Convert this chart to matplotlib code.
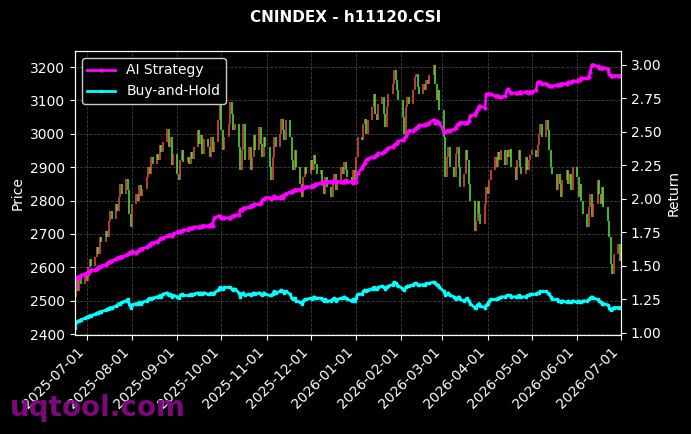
import numpy as np
import pandas as pd
import matplotlib
matplotlib.use("Agg")
import matplotlib.pyplot as plt
import matplotlib.dates as mdates

## data ****************************************************************************************************************

# trading days, 2025-06-23 .. 2026-07-01
dates = pd.bdate_range("2025-06-23", "2026-07-01")

first_open = 2560
# daily closes, one line per week
close = [2510, 2565, 2530, 2575, 2550,
         2585, 2560, 2600, 2625, 2605,
         2630, 2660, 2640, 2690, 2675,
         2710, 2690, 2740, 2770, 2745,
         2790, 2770, 2810, 2850, 2820,
         2865, 2830, 2760, 2720, 2790,
         2820, 2800, 2845, 2815, 2835,
         2870, 2900, 2880, 2930, 2910,
         2940, 2920, 2965, 2945, 2975,
         3015, 2960, 2990, 2905, 2940,
         2880, 2860, 2920, 2950, 2915,
         2930, 2910, 2945, 2925, 2960,
         3010, 2970, 2995, 2940, 2985,
         2960, 2930, 2990, 2945, 2975,
         3040, 3085, 3010, 2950, 2990,
         3030, 3095, 3060, 3010, 3030,
         2960, 2890, 2950, 3030, 2920,
         2960, 2890, 2930, 2995, 2950,
         3020, 2970, 2930, 2990, 2960,
         2900, 2860, 2930, 2990, 2960,
         3000, 3045, 3010, 2980, 3040,
         2990, 2920, 2890, 2950, 2900,
         2850, 2810, 2870, 2900, 2880,
         2920, 2890, 2935, 2910, 2880,
         2890, 2850, 2820, 2870, 2840,
         2810, 2860, 2880, 2830, 2860,
         2900, 2880, 2915, 2890, 2870,
         2850, 2890, 2860, 2930, 2990,
         2980, 3030, 3045, 3000, 3040,
         3080, 3120, 3060, 3040, 3090,
         3110, 3060, 3020, 3080, 3120,
         3150, 3190, 3160, 3130, 3100,
         3050, 3000, 3080, 3110, 3090,
         3130, 3170, 3180, 3140, 3120,
         3150, 3130, 3160, 3150, 3175,
         3205, 3150, 3100, 3130, 3070,
         2990, 2870, 2930, 2960, 2900,
         2870, 2940, 2960, 2900, 2840,
         2880, 2950, 2920, 2850, 2800,
         2710, 2740, 2800, 2760, 2730,
         2790, 2840, 2820, 2860, 2890,
         2930, 2900, 2945, 2920, 2950,
         2905, 2950, 2930, 2955, 2900,
         2860, 2920, 2950, 2900, 2880,
         2930, 2890, 2920, 2935, 2950,
         2930, 2965, 3000, 3030, 2990,
         3040, 3010, 2950, 2900, 2880,
         2830, 2880, 2850, 2810, 2860,
         2890, 2850, 2880, 2830, 2900,
         2870, 2810, 2850, 2800, 2760,
         2720, 2780, 2820, 2750, 2790,
         2860, 2820, 2790, 2840, 2780,
         2740, 2690, 2610, 2580, 2640,
         2670, 2620, 2650]

ai_strategy = [1.35, 1.41, 1.42, 1.41, 1.43,
               1.44, 1.45, 1.44, 1.46, 1.47,
               1.47, 1.48, 1.49, 1.49, 1.50,
               1.51, 1.52, 1.53, 1.53, 1.54,
               1.55, 1.56, 1.56, 1.57, 1.57,
               1.58, 1.59, 1.60, 1.60, 1.61,
               1.60, 1.61, 1.62, 1.63, 1.63,
               1.64, 1.65, 1.66, 1.67, 1.67,
               1.68, 1.69, 1.70, 1.71, 1.71,
               1.72, 1.73, 1.73, 1.72, 1.74,
               1.75, 1.76, 1.75, 1.76, 1.77,
               1.77, 1.78, 1.78, 1.78, 1.79,
               1.79, 1.79, 1.79, 1.80, 1.80,
               1.80, 1.80, 1.81, 1.80, 1.86,
               1.87, 1.87, 1.86, 1.86, 1.86,
               1.86, 1.86, 1.87, 1.87, 1.88,
               1.88, 1.92, 1.92, 1.93, 1.93,
               1.94, 1.95, 1.95, 1.96, 1.96,
               1.96, 1.97, 1.99, 2.00, 2.01,
               2.01, 2.00, 2.01, 2.02, 2.01,
               2.01, 2.02, 2.01, 2.03, 2.04,
               2.05, 2.05, 2.06, 2.07, 2.07,
               2.07, 2.08, 2.08, 2.09, 2.09,
               2.09, 2.10, 2.10, 2.11, 2.11,
               2.12, 2.12, 2.13, 2.13, 2.13,
               2.13, 2.13, 2.14, 2.13, 2.13,
               2.13, 2.13, 2.13, 2.14, 2.13,
               2.13, 2.12, 2.13, 2.13, 2.19,
               2.23, 2.25, 2.27, 2.29, 2.30,
               2.31, 2.31, 2.32, 2.33, 2.34,
               2.34, 2.35, 2.36, 2.37, 2.38,
               2.39, 2.40, 2.41, 2.42, 2.43,
               2.44, 2.45, 2.47, 2.49, 2.51,
               2.51, 2.52, 2.53, 2.54, 2.55,
               2.55, 2.55, 2.56, 2.56, 2.57,
               2.59, 2.57, 2.58, 2.57, 2.57,
               2.50, 2.50, 2.51, 2.51, 2.51,
               2.52, 2.53, 2.55, 2.56, 2.57,
               2.57, 2.57, 2.57, 2.58, 2.62,
               2.63, 2.65, 2.67, 2.69, 2.69,
               2.68, 2.78, 2.78, 2.78, 2.78,
               2.77, 2.77, 2.77, 2.76, 2.76,
               2.77, 2.81, 2.82, 2.80, 2.79,
               2.79, 2.79, 2.79, 2.80, 2.79,
               2.80, 2.80, 2.79, 2.80, 2.80,
               2.81, 2.87, 2.87, 2.87, 2.86,
               2.86, 2.85, 2.84, 2.84, 2.84,
               2.85, 2.85, 2.85, 2.86, 2.86,
               2.86, 2.87, 2.87, 2.87, 2.88,
               2.88, 2.89, 2.89, 2.90, 2.90,
               2.90, 2.91, 2.95, 3.00, 3.00,
               2.99, 2.98, 2.98, 2.98, 2.98,
               2.97, 2.93, 2.92, 2.92, 2.92,
               2.92, 2.92, 2.92]

buy_and_hold = [1.04, 1.08, 1.09, 1.09, 1.10,
                1.11, 1.12, 1.12, 1.13, 1.13,
                1.14, 1.15, 1.15, 1.16, 1.16,
                1.17, 1.18, 1.18, 1.19, 1.19,
                1.20, 1.21, 1.22, 1.22, 1.23,
                1.24, 1.25, 1.22, 1.19, 1.21,
                1.22, 1.22, 1.23, 1.22, 1.23,
                1.24, 1.25, 1.26, 1.25, 1.26,
                1.27, 1.27, 1.28, 1.27, 1.29,
                1.30, 1.28, 1.29, 1.27, 1.28,
                1.27, 1.26, 1.28, 1.29, 1.28,
                1.28, 1.28, 1.29, 1.28, 1.29,
                1.30, 1.29, 1.30, 1.29, 1.30,
                1.29, 1.29, 1.30, 1.29, 1.30,
                1.32, 1.34, 1.33, 1.33, 1.34,
                1.34, 1.34, 1.33, 1.32, 1.33,
                1.30, 1.27, 1.29, 1.30, 1.28,
                1.29, 1.28, 1.29, 1.30, 1.29,
                1.30, 1.29, 1.28, 1.30, 1.29,
                1.28, 1.28, 1.29, 1.31, 1.30,
                1.31, 1.32, 1.31, 1.30, 1.31,
                1.29, 1.26, 1.25, 1.26, 1.24,
                1.23, 1.22, 1.24, 1.25, 1.25,
                1.26, 1.25, 1.27, 1.26, 1.26,
                1.26, 1.25, 1.24, 1.25, 1.24,
                1.24, 1.25, 1.26, 1.24, 1.25,
                1.26, 1.26, 1.27, 1.26, 1.25,
                1.24, 1.25, 1.24, 1.26, 1.29,
                1.29, 1.31, 1.32, 1.31, 1.32,
                1.33, 1.34, 1.33, 1.33, 1.34,
                1.35, 1.34, 1.33, 1.34, 1.35,
                1.36, 1.38, 1.37, 1.36, 1.35,
                1.33, 1.32, 1.34, 1.35, 1.35,
                1.36, 1.37, 1.37, 1.36, 1.36,
                1.36, 1.36, 1.37, 1.37, 1.37,
                1.38, 1.37, 1.36, 1.36, 1.34,
                1.31, 1.28, 1.29, 1.30, 1.28,
                1.27, 1.25, 1.26, 1.27, 1.25,
                1.24, 1.25, 1.26, 1.24, 1.22,
                1.19, 1.19, 1.21, 1.22, 1.20,
                1.19, 1.21, 1.22, 1.24, 1.25,
                1.25, 1.25, 1.26, 1.26, 1.27,
                1.27, 1.28, 1.28, 1.28, 1.27,
                1.27, 1.27, 1.28, 1.27, 1.27,
                1.27, 1.28, 1.28, 1.29, 1.29,
                1.29, 1.30, 1.30, 1.31, 1.31,
                1.31, 1.30, 1.29, 1.27, 1.25,
                1.25, 1.24, 1.24, 1.23, 1.24,
                1.23, 1.24, 1.23, 1.23, 1.24,
                1.23, 1.24, 1.23, 1.23, 1.24,
                1.24, 1.25, 1.26, 1.27, 1.26,
                1.25, 1.24, 1.23, 1.22, 1.22,
                1.21, 1.19, 1.17, 1.18, 1.19,
                1.19, 1.19, 1.19]

## plot ****************************************************************************************************************

close = np.array(close, dtype=float)
opn = np.r_[first_open, close[:-1]]
up = close >= opn
# red = up, green = down (CN convention)
cols = np.where(up, "#f0503f", "#4cf03a")

fig = plt.figure(figsize=(6.91, 4.34), dpi=100, facecolor="black")
ax = fig.add_axes([0.1085, 0.2281, 0.7902, 0.6544], facecolor="black")

ax.vlines(dates, np.minimum(opn, close), np.maximum(opn, close), colors=cols, linewidth=1.2, alpha=0.9)
ax.set_ylim(2397, 3248)
ax.set_xlim(dates[0], dates[-1])
ax.set_ylabel("Price", color="white", fontsize=10)
ax.grid(True, color="gray", linestyle="--", linewidth=0.6, alpha=0.5)

ax2 = ax.twinx()
ax2.plot(dates, ai_strategy, color="#ff00ff", marker="o", markersize=2, linewidth=2, label="AI Strategy")
ax2.plot(dates, buy_and_hold, color="#00ffff", marker="s", markersize=2, linewidth=2, label="Buy-and-Hold")
ax2.set_ylim(0.985, 3.104)
ax2.set_ylabel("Return", color="white", fontsize=10)

ax.xaxis.set_major_locator(mdates.MonthLocator())
ax.xaxis.set_major_formatter(mdates.DateFormatter("%Y-%m-%d"))
plt.setp(ax.get_xticklabels(), rotation=45, ha="right")

for a in (ax, ax2):
    a.tick_params(colors="white", labelsize=10)
    for s in a.spines.values():
        s.set_color("white")

leg = ax2.legend(loc="upper left", facecolor="black", edgecolor="white", fontsize=10)
for t in leg.get_texts():
    t.set_color("white")

fig.text(0.5, 1 - 18 / 434, "CNINDEX - h11120.CSI", color="white", fontsize=11, fontweight="bold",
         ha="center", va="center")
fig.text(10 / 691, 1 - 408 / 434, "uqtool.com", color="#8b0a8b", alpha=0.9, fontsize=20, fontweight="bold",
         ha="left", va="center")

fig.savefig("out.png", dpi=100, facecolor="black")
